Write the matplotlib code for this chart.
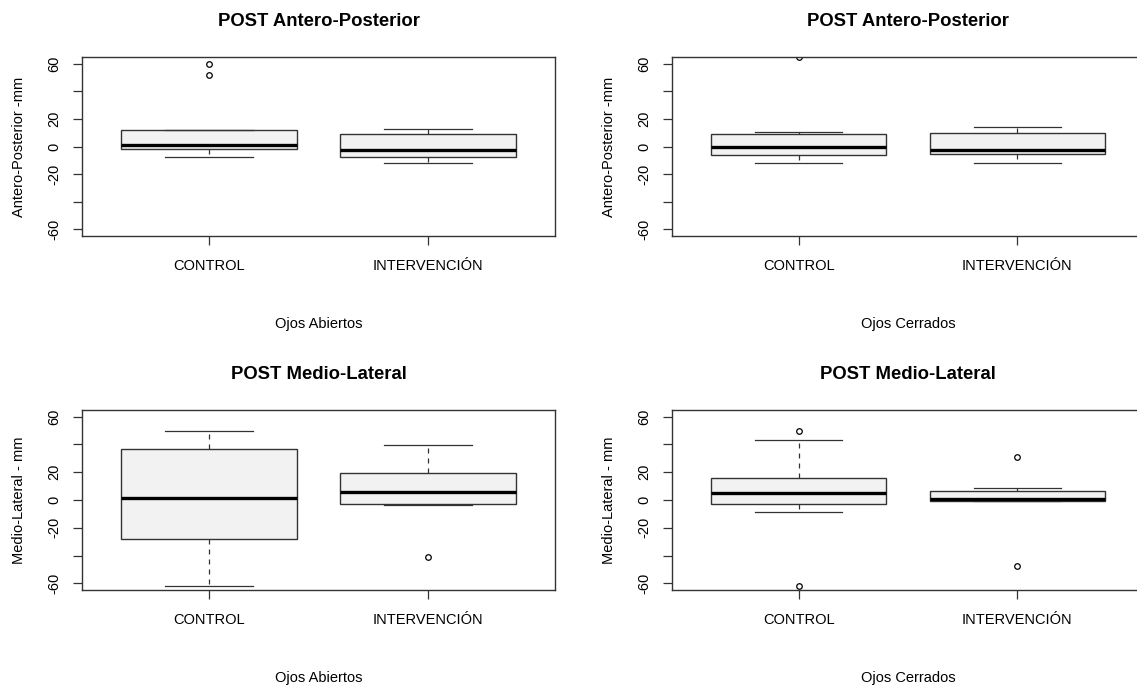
import matplotlib
matplotlib.use("Agg")
import matplotlib.pyplot as plt

plt.rcParams['font.family'] = ['Liberation Sans', 'DejaVu Sans']

groups = ["CONTROL", "INTERVENCIÓN"]

# summaries per panel, one entry per group: [CONTROL, INTERVENCIÓN]
ap_open_med = [1.0, -2.2]
ap_open_q1 = [-1.7, -7.7]
ap_open_q3 = [12.0, 9.1]
ap_open_lo = [-7.4, -12.0]
ap_open_hi = [12.0, 12.9]
ap_open_out = [[59.6, 51.9], []]

ap_closed_med = [0.0, -2.4]
ap_closed_q1 = [-6.2, -5.3]
ap_closed_q3 = [8.9, 10.1]
ap_closed_lo = [-12.2, -12.2]
ap_closed_hi = [10.8, 14.1]
ap_closed_out = [[64.7], []]

ml_open_med = [1.7, 6.0]
ml_open_q1 = [-28.2, -2.7]
ml_open_q3 = [36.6, 19.5]
ml_open_lo = [-62.2, -3.6]
ml_open_hi = [49.4, 39.3]
ml_open_out = [[], [-40.7]]

ml_closed_med = [5.3, 0.5]
ml_closed_q1 = [-2.7, -0.7]
ml_closed_q3 = [16.1, 6.7]
ml_closed_lo = [-8.4, -0.7]
ml_closed_hi = [43.4, 8.7]
ml_closed_out = [[49.6, -61.9], [30.8, -47.7]]

yticks = [-60, -40, -20, 0, 20, 40, 60]
yticklabels = ["-60", "", "-20", "0", "20", "", "60"]


def make_stats(med, q1, q3, lo, hi, out):
    return [dict(med=med[i], q1=q1[i], q3=q3[i], whislo=lo[i], whishi=hi[i],
                 fliers=out[i], label=groups[i]) for i in range(len(groups))]


W, H = 1137, 686
fig = plt.figure(figsize=(W / 100, H / 100), dpi=100)


def px_axes(left, top, right, bottom):
    return fig.add_axes([left / W, 1 - bottom / H, (right - left) / W, (bottom - top) / H])


panels = [
    ("POST Antero-Posterior", "Antero-Posterior -mm", "Ojos Abiertos",
     make_stats(ap_open_med, ap_open_q1, ap_open_q3, ap_open_lo, ap_open_hi, ap_open_out),
     (82, 57, 555, 236)),
    ("POST Antero-Posterior", "Antero-Posterior -mm", "Ojos Cerrados",
     make_stats(ap_closed_med, ap_closed_q1, ap_closed_q3, ap_closed_lo, ap_closed_hi, ap_closed_out),
     (672, 57, 1144, 236)),
    ("POST Medio-Lateral", "Medio-Lateral - mm", "Ojos Abiertos",
     make_stats(ml_open_med, ml_open_q1, ml_open_q3, ml_open_lo, ml_open_hi, ml_open_out),
     (82, 410, 555, 590)),
    ("POST Medio-Lateral", "Medio-Lateral - mm", "Ojos Cerrados",
     make_stats(ml_closed_med, ml_closed_q1, ml_closed_q3, ml_closed_lo, ml_closed_hi, ml_closed_out),
     (672, 410, 1144, 590)),
]

edge = "#333333"

for title, ylabel, xlabel, stats, rect in panels:
    ax = px_axes(*rect)
    ax.bxp(stats, positions=[1, 2], widths=0.8, capwidths=0.4, patch_artist=True,
           boxprops=dict(facecolor="#f2f2f2", edgecolor=edge, linewidth=1.0),
           medianprops=dict(color="black", linewidth=2.4, solid_capstyle="butt"),
           whiskerprops=dict(color=edge, linestyle=(0, (4, 4)), linewidth=0.9),
           capprops=dict(color=edge, linewidth=0.9),
           flierprops=dict(marker="o", markersize=4, markerfacecolor="none",
                           markeredgecolor="black", markeredgewidth=0.9))
    ax.set_xlim(0.42, 2.58)
    ax.set_ylim(-64.8, 64.8)
    ax.set_yticks(yticks)
    ax.set_yticklabels(yticklabels, rotation=90, va="center", fontsize=10.5)
    ax.set_xticks([1, 2])
    ax.set_xticklabels(groups, fontsize=10.5)
    ax.tick_params(length=6.5, width=0.9, color=edge)
    ax.tick_params(axis="x", pad=10)
    ax.tick_params(axis="y", pad=8.6)
    for sp in ax.spines.values():
        sp.set_color(edge)
        sp.set_linewidth(1.0)
    ax.set_title(title, fontsize=13.3, fontweight="bold", pad=22)
    ax.set_ylabel(ylabel, fontsize=10.5, labelpad=15)
    ax.set_xlabel(xlabel, fontsize=10.5, labelpad=31.5)

fig.savefig("out.png", dpi=100)
